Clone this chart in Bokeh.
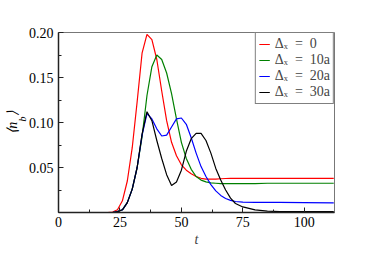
from bokeh.plotting import figure
from bokeh.models import Range1d, FixedTicker, Title
from bokeh.embed import file_html
from bokeh.resources import INLINE

# ---- data ----
t = [0, 20, 22, 24, 26, 28, 30, 32, 34, 36, 38, 40, 42, 44, 46, 48, 50, 52, 54, 56,
     58, 60, 62, 64, 66, 68, 70, 72, 75, 80, 85, 90, 100, 112]
nb_0 = [0, 0, 0.0005, 0.003, 0.013, 0.035, 0.072, 0.123, 0.177, 0.198,
        0.192, 0.170, 0.135, 0.102, 0.078, 0.063, 0.053, 0.047, 0.043, 0.040,
        0.038, 0.037, 0.037, 0.037, 0.0375, 0.0378, 0.038, 0.038, 0.038, 0.038,
        0.038, 0.038, 0.038, 0.038]
nb_10 = [0, 0, 0, 0.001, 0.003, 0.011, 0.026, 0.050, 0.084, 0.130,
         0.162, 0.175, 0.170, 0.155, 0.132, 0.104, 0.078, 0.060, 0.048, 0.040,
         0.036, 0.034, 0.033, 0.0325, 0.032, 0.032, 0.032, 0.032, 0.032, 0.032,
         0.0325, 0.0325, 0.0325, 0.0325]
nb_20 = [0, 0, 0, 0.001, 0.003, 0.011, 0.026, 0.050, 0.086, 0.110,
         0.104, 0.093, 0.085, 0.086, 0.095, 0.104, 0.105, 0.098, 0.083, 0.066,
         0.051, 0.040, 0.031, 0.024, 0.019, 0.0155, 0.0135, 0.0122, 0.0115, 0.0113,
         0.0112, 0.0112, 0.011, 0.0108]
nb_30 = [0, 0, 0, 0.001, 0.003, 0.011, 0.026, 0.050, 0.087, 0.112,
         0.102, 0.080, 0.060, 0.042, 0.030, 0.034, 0.047, 0.068, 0.082, 0.088,
         0.088, 0.080, 0.066, 0.049, 0.036, 0.025, 0.016, 0.010, 0.0062, 0.003,
         0.0015, 0.001, 0.001, 0.001]
series_labels = ["Δₓ\u2002=\u20020", "Δₓ\u2002=\u200210a", "Δₓ\u2002=\u200220a", "Δₓ\u2002=\u200230a"]
series_colors = ["#ff0000", "#008000", "#0000ff", "#000000"]
x_ticks = [0, 25, 50, 75, 100]
x_minor = [12.5, 37.5, 62.5, 87.5]
y_ticks = [0.05, 0.10, 0.15, 0.20]
y_minor = [0.025, 0.075, 0.125, 0.175]

FONT = "Liberation Serif"

p = figure(width=366, height=252, x_range=Range1d(0, 112.3), y_range=Range1d(0, 0.2),
           output_backend="svg", toolbar_location=None,
           min_border_left=58, min_border_right=32, min_border_top=32, min_border_bottom=40)
p.background_fill_color = "white"
p.border_fill_color = "white"
p.outline_line_color = "#777777"
p.outline_line_width = 1
p.xgrid.visible = False
p.ygrid.visible = False

for ys, lab, col in zip([nb_0, nb_10, nb_20, nb_30], series_labels, series_colors):
    p.line(t, ys, line_color=col, line_width=1.2, legend_label=lab)

for ax in (p.xaxis[0], p.yaxis[0]):
    ax.axis_line_color = "#222222"
    ax.axis_line_width = 1.5
    ax.major_tick_line_color = "#222222"
    ax.minor_tick_line_color = "#222222"
    ax.major_tick_in = 5
    ax.major_tick_out = 0
    ax.minor_tick_in = 3
    ax.minor_tick_out = 0
    ax.major_label_text_font = FONT
    ax.major_label_text_font_size = "14px"
    ax.major_label_text_color = "black"

p.xaxis.ticker = FixedTicker(ticks=x_ticks, minor_ticks=x_minor)
p.yaxis.ticker = FixedTicker(ticks=y_ticks, minor_ticks=y_minor)
p.xaxis.major_label_standoff = 4
p.yaxis.major_label_standoff = 5
p.yaxis.major_label_overrides = {0.05: "0.05", 0.1: "0.10", 0.15: "0.15", 0.2: "0.20"}
p.xaxis.axis_label = "t"
p.xaxis.axis_label_text_font = FONT
p.xaxis.axis_label_text_font_style = "italic"
p.xaxis.axis_label_text_font_size = "14px"
p.xaxis.axis_label_standoff = 2

# y axis label <n_b>: subscript "b" and the bracketed "n" as two vertical titles
p.add_layout(Title(text="\u2002\u2009b", text_font=FONT, text_font_size="10px",
                   text_font_style="italic", align="center", standoff=-5,
                   text_color="black"), "left")
p.add_layout(Title(text="⟨n\u2009\u2009⟩", text_font=FONT, text_font_size="14px",
                   text_font_style="italic", align="center", standoff=-4,
                   text_color="black"), "left")

lg = p.legend[0]
lg.location = "top_right"
lg.margin = 0
lg.padding = 3
lg.spacing = 0
lg.label_height = 16
lg.glyph_height = 16
lg.glyph_width = 11
lg.label_standoff = 5
lg.label_text_font = FONT
lg.label_text_font_size = "14px"
lg.border_line_color = "black"
lg.border_line_width = 1
lg.background_fill_alpha = 1.0

open("out.html", "w").write(file_html(p, INLINE))
